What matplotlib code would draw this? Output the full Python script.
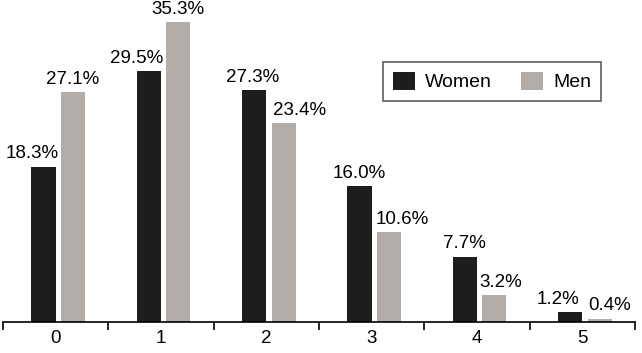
import numpy as np
import matplotlib
matplotlib.use('Agg')
from matplotlib import pyplot as plt

categories = ['0', '1', '2', '3', '4', '5']
women = [18.3, 29.5, 27.3, 16.0, 7.7, 1.2]
men = [27.1, 35.3, 23.4, 10.6, 3.2, 0.4]

# horizontal nudge (points) of each value label relative to its bar centre
women_nudge = [-8.5, -9, -1.5, 0, 0, -8.5]
men_nudge = [-0.5, 0, 11.5, 9.5, 4.5, 7]

plt.rcParams['font.family'] = ['Liberation Sans', 'DejaVu Sans']

fig = plt.figure(figsize=(6.42, 3.53), dpi=100)
ax = fig.add_axes([3 / 642, 31 / 353, 632 / 642, 321 / 353])

x = np.arange(len(categories))
w = 0.23
bw = ax.bar(x - 0.115, women, w, color='#1d1d1b', label='Women')
bm = ax.bar(x + 0.165, men, w, color='#b3ada9', label='Men')

for xi, v, dx in zip(x, women, women_nudge):
    ax.annotate(f'{v:.1f}%', (xi - 0.115, v), xytext=(dx, 3),
                textcoords='offset points', ha='center', va='bottom', fontsize=13.5)
for xi, v, dx in zip(x, men, men_nudge):
    ax.annotate(f'{v:.1f}%', (xi + 0.165, v), xytext=(dx, 3),
                textcoords='offset points', ha='center', va='bottom', fontsize=13.5)

ax.set_xlim(-0.5, 5.5)
ax.set_ylim(0, 37.8)
for s in ['top', 'right', 'left']:
    ax.spines[s].set_visible(False)
ax.spines['bottom'].set_linewidth(1.2)
ax.set_yticks([])

# tick marks between categories, labels centred on them
ax.set_xticks(np.arange(-0.5, 6, 1))
ax.set_xticklabels([])
ax.tick_params(axis='x', which='major', length=6, width=1.2, direction='out')
ax.set_xticks(x, minor=True)
ax.set_xticklabels(categories, minor=True, fontsize=13.5)
ax.tick_params(axis='x', which='minor', length=0, pad=6)

leg = ax.legend(loc='upper left', bbox_to_anchor=((383 - 3) / 632, (322 - 62) / 321),
                borderaxespad=0, ncol=2, frameon=True, fancybox=False,
                edgecolor='#333333', fontsize=14, handlelength=1.15,
                handleheight=1.05, columnspacing=1.5, borderpad=0.5,
                handletextpad=0.5)
leg.get_frame().set_linewidth(1.2)

fig.savefig('out.png', dpi=100)
